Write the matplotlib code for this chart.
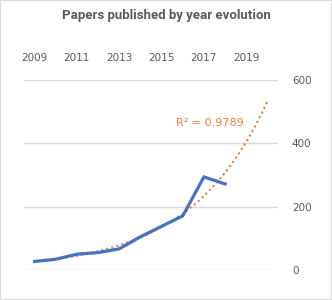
import numpy as np
import matplotlib.pyplot as plt
from matplotlib.patches import Rectangle

# Dados
anos = [2009, 2010, 2011, 2012, 2013, 2014, 2015, 2016, 2017, 2018]
papers = [27, 34, 50, 55, 67, 105, 138, 171, 294, 272]
anos_ticks = [2009, 2011, 2013, 2015, 2017, 2019]
y_ticks = [0, 200, 400, 600]
r2_label = 'R² = 0.9789'

cinza = '#595959'
azul = '#4472C4'
laranja = '#ED7D31'

fig = plt.figure(figsize=(3.32, 3.0), dpi=100)
fig.patches.append(Rectangle((0, 0), 1, 1, transform=fig.transFigure,
                             fill=False, edgecolor='#d9d9d9', linewidth=1.5))
fig.text(0.5, 0.947, 'Papers published by year evolution', ha='center', va='center',
         fontsize=9.5, fontweight='bold', color=cinza, family='Roboto')

ax = fig.add_axes([24 / 332, 0.1, 254 / 332, 0.633])

# Linha de tendência (exponencial, como no Excel)
x_idx = np.arange(1, len(anos) + 1)
coef = np.polyfit(x_idx, np.log(papers), 1)
x_tend = np.linspace(1, 12, 100)
y_tend = np.exp(np.polyval(coef, x_tend))
ax.plot(x_tend + 2008, y_tend, color=laranja, linewidth=1.5, linestyle=(0, (1, 1.5)), zorder=2)

ax.plot(anos, papers, color=azul, linewidth=2.3, solid_joinstyle='miter', zorder=3)

ax.text(2017.3, 465, r2_label, color=laranja, fontsize=8, ha='center', va='center')

ax.set_xlim(2008.5, 2020.5)
ax.set_ylim(0, 600)
ax.set_xticks(anos_ticks)
ax.set_yticks(y_ticks)
ax.xaxis.tick_top()
ax.yaxis.tick_right()
ax.tick_params(length=0, labelsize=7.5, labelcolor=cinza)
ax.tick_params(axis='x', pad=12)
ax.tick_params(axis='y', pad=10)
ax.grid(axis='y', color='#d9d9d9', linewidth=1)
ax.set_axisbelow(True)
for s in ax.spines.values():
    s.set_visible(False)

plt.savefig('out.png', dpi=100)
